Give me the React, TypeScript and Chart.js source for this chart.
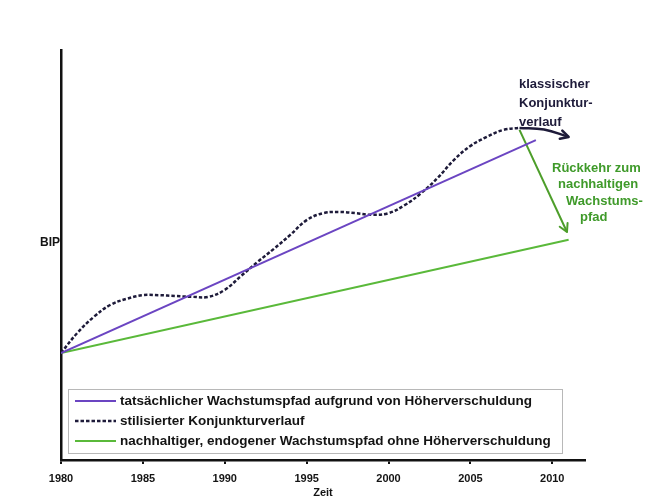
import React, { useEffect, useRef } from "react";
import { Chart, registerables } from "chart.js";

Chart.register(...registerables);

// ---------- data ----------
const TICK_YEARS = [1980, 1985, 1990, 1995, 2000, 2005, 2010];

const CYCLE_YEARS = [
  1980, 1981, 1982, 1983, 1984, 1985, 1986, 1987, 1988, 1989, 1990, 1991, 1992, 1993, 1994,
  1995, 1996, 1997, 1998, 1999, 2000, 2001, 2002, 2003, 2004, 2005, 2006, 2007, 2008,
];
const CYCLE_VALUES = [
  26.1, 31.0, 34.9, 37.8, 39.3, 40.2, 40.2, 40.0, 39.8, 39.8, 41.5, 44.9, 48.3, 51.5, 54.9,
  58.5, 60.2, 60.5, 60.2, 59.8, 60.2, 62.2, 65.1, 68.8, 73.2, 76.6, 78.8, 80.5, 81.0,
];

const DEBT_YEARS = [1980, 2009];
const DEBT_VALUES = [26.1, 78.0];

const SUSTAIN_YEARS = [1980, 2011];
const SUSTAIN_VALUES = [26.1, 53.7];

const CLASSIC_ARROW_YEARS = [2008, 2009.5, 2011];
const CLASSIC_ARROW_VALUES = [81.0, 80.6, 78.8];

const RETURN_ARROW_YEARS = [2008, 2010.9];
const RETURN_ARROW_VALUES = [80.5, 55.6];

const LABELS = [
  "tatsächlicher Wachstumspfad aufgrund von Höherverschuldung",
  "stilisierter Konjunkturverlauf",
  "nachhaltiger, endogener Wachstumspfad ohne Höherverschuldung",
];

const CLASSIC_TEXT = ["klassischer", "Konjunktur-", "verlauf"];
const RETURN_TEXT = ["Rückkehr zum", "nachhaltigen", "Wachstums-", "pfad"];
const Y_LABEL = "BIP";
const X_LABEL = "Zeit";

const pts = (xs: number[], ys: number[]) => xs.map((x, i) => ({ x, y: ys[i] }));

const FONT = "'Liberation Sans', Arial, Helvetica, sans-serif";
const PURPLE = "#6b45c2";
const NAVY = "#1e1b3a";
const GREEN = "#5ab93a";
const DARKGREEN = "#4d9e2a";
const TEXTGREEN = "#3f9a2a";

const arrowPlugin = {
  id: "arrowHeads",
  afterDatasetsDraw(chart: any) {
    const ctx = chart.ctx;
    chart.data.datasets.forEach((ds: any, i: number) => {
      if (!ds.arrowHead) return;
      const meta = chart.getDatasetMeta(i);
      const n = meta.data.length;
      if (n < 2) return;
      const last = meta.data[n - 1];
      let from = meta.data[n - 2];
      if (last.cp1x !== undefined && Math.abs(last.cp1x - last.x) > 0.5) {
        from = { x: last.cp1x, y: last.cp1y };
      }
      const ang = Math.atan2(last.y - from.y, last.x - from.x);
      const len = 9;
      const spread = 0.5;
      ctx.save();
      ctx.strokeStyle = ds.borderColor;
      ctx.lineWidth = ds.borderWidth;
      ctx.lineCap = "round";
      ctx.lineJoin = "round";
      ctx.beginPath();
      ctx.moveTo(last.x - len * Math.cos(ang - spread), last.y - len * Math.sin(ang - spread));
      ctx.lineTo(last.x, last.y);
      ctx.lineTo(last.x - len * Math.cos(ang + spread), last.y - len * Math.sin(ang + spread));
      ctx.stroke();
      ctx.restore();
    });
  },
};

const legendBoxPlugin = {
  id: "legendBox",
  afterDraw(chart: any) {
    const ctx = chart.ctx;
    const box = { x: 68, y: 389, w: 494, h: 64 };
    ctx.save();
    ctx.fillStyle = "rgba(255,255,255,0.95)";
    ctx.fillRect(box.x, box.y, box.w, box.h);
    ctx.strokeStyle = "#b8b8b8";
    ctx.lineWidth = 1;
    ctx.strokeRect(box.x + 0.5, box.y + 0.5, box.w, box.h);
    const rows = [401, 421, 441];
    chart.data.datasets.slice(0, 3).forEach((ds: any, i: number) => {
      const y = rows[i];
      ctx.beginPath();
      ctx.strokeStyle = ds.borderColor;
      ctx.lineWidth = ds.borderWidth;
      ctx.setLineDash(ds.borderDash || []);
      ctx.moveTo(75, y);
      ctx.lineTo(116, y);
      ctx.stroke();
      ctx.setLineDash([]);
      ctx.fillStyle = "#141414";
      ctx.font = `bold 13.5px ${FONT}`;
      ctx.textBaseline = "middle";
      ctx.textAlign = "left";
      ctx.fillText(ds.label, 120, y);
    });
    ctx.restore();
  },
};

const annotationPlugin = {
  id: "annotations",
  afterDraw(chart: any) {
    const ctx = chart.ctx;
    ctx.save();
    ctx.textBaseline = "middle";
    ctx.font = `bold 13px ${FONT}`;
    ctx.fillStyle = NAVY;
    ctx.textAlign = "left";
    CLASSIC_TEXT.forEach((t, i) => ctx.fillText(t, 519, 84 + i * 19));

    ctx.font = `bold 13px ${FONT}`;
    ctx.fillStyle = TEXTGREEN;
    const lefts = [552, 558, 566, 580];
    RETURN_TEXT.forEach((t, i) => ctx.fillText(t, lefts[i], 168 + i * 16.5));

    ctx.font = `bold 12px ${FONT}`;
    ctx.fillStyle = "#141414";
    ctx.textAlign = "right";
    ctx.fillText(Y_LABEL, 60, 243);
    ctx.restore();
  },
};

export default function App() {
  const ref = useRef<HTMLCanvasElement | null>(null);

  useEffect(() => {
    document.body.style.margin = "0";
    if (!ref.current) return;
    const chart = new Chart(ref.current, {
      type: "line",
      data: {
        datasets: [
          {
            label: LABELS[0],
            data: pts(DEBT_YEARS, DEBT_VALUES),
            borderColor: PURPLE,
            borderWidth: 2,
            pointRadius: 0,
            tension: 0,
          },
          {
            label: LABELS[1],
            data: pts(CYCLE_YEARS, CYCLE_VALUES),
            borderColor: NAVY,
            borderWidth: 2.5,
            borderDash: [3.5, 2],
            pointRadius: 0,
            tension: 0.4,
          },
          {
            label: LABELS[2],
            data: pts(SUSTAIN_YEARS, SUSTAIN_VALUES),
            borderColor: GREEN,
            borderWidth: 2,
            pointRadius: 0,
            tension: 0,
          },
          {
            label: "classic",
            data: pts(CLASSIC_ARROW_YEARS, CLASSIC_ARROW_VALUES),
            borderColor: NAVY,
            borderWidth: 2.5,
            pointRadius: 0,
            tension: 0.4,
            arrowHead: true,
          } as any,
          {
            label: "return",
            data: pts(RETURN_ARROW_YEARS, RETURN_ARROW_VALUES),
            borderColor: DARKGREEN,
            borderWidth: 2,
            pointRadius: 0,
            tension: 0,
            arrowHead: true,
          } as any,
        ],
      },
      options: {
        responsive: false,
        animation: false,
        layout: { padding: { left: 61, top: 50, right: 65, bottom: 0 } },
        plugins: {
          legend: { display: false },
          tooltip: { enabled: false },
        },
        scales: {
          x: {
            type: "linear",
            min: 1980,
            max: 2012,
            afterBuildTicks: (s: any) => {
              s.ticks = TICK_YEARS.map((v) => ({ value: v }));
            },
            afterFit: (s: any) => {
              s.height = 40;
            },
            grid: { display: true, drawOnChartArea: false, drawTicks: true, tickLength: 4, color: "#111", lineWidth: 2 },
            border: { display: true, color: "#111", width: 2.5 },
            ticks: {
              color: "#141414",
              font: { family: FONT, size: 11, weight: "bold" },
              padding: 8,
              maxRotation: 0,
              callback: (v: any) => String(v),
            },
            title: {
              display: true,
              text: X_LABEL,
              color: "#141414",
              font: { family: FONT, size: 11, weight: "bold" },
              padding: { top: 0, bottom: 0 },
            },
          },
          y: {
            type: "linear",
            min: 0,
            max: 100,
            afterFit: (s: any) => {
              s.width = 0;
            },
            grid: { display: false, drawTicks: false },
            border: { display: true, color: "#111", width: 2.5 },
            ticks: { display: false },
          },
        },
      },
      plugins: [arrowPlugin, annotationPlugin, legendBoxPlugin],
    } as any);
    return () => chart.destroy();
  }, []);

  return (
    <div style={{ width: 650, height: 500, background: "#fff" }}>
      <canvas ref={ref} width={650} height={500} />
    </div>
  );
}
